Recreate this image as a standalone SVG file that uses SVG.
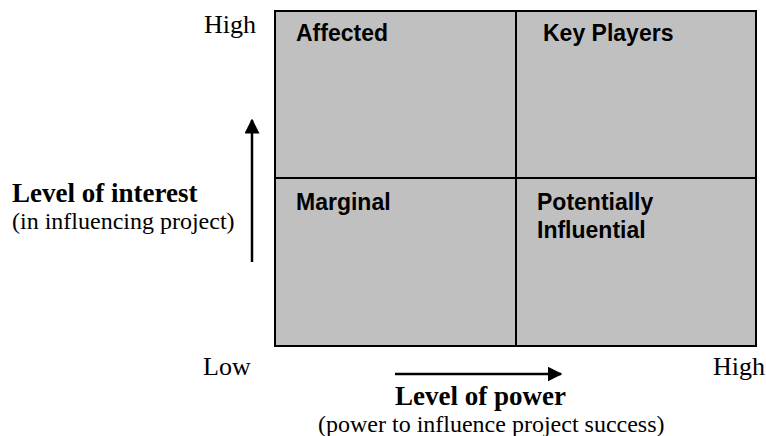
<svg xmlns="http://www.w3.org/2000/svg" width="766" height="436" viewBox="0 0 766 436">
<defs>
<style>
.quad{fill:#C0C0C0;stroke:#000;stroke-width:2}
.ql{font-family:"Liberation Sans",Arial,sans-serif;font-weight:bold;font-size:23px;fill:#000}
.ax{font-family:"Liberation Serif","Times New Roman",serif;font-size:26px;fill:#000}
.sub{font-family:"Liberation Serif","Times New Roman",serif;font-size:24px;fill:#000}
.axb{font-family:"Liberation Serif","Times New Roman",serif;font-size:27px;font-weight:bold;fill:#000}
.arr{stroke:#000;stroke-width:2.5;fill:none}
</style>
<marker id="ah" viewBox="0 0 10 10" refX="9" refY="5" markerWidth="6" markerHeight="6" orient="auto" markerUnits="strokeWidth">
<path d="M0,0 L10,5 L0,10 Z" fill="#000"/>
</marker>
</defs>
<rect width="766" height="436" fill="#fff"/>
<g id="affected"><rect class="quad" x="275" y="11" width="241" height="167"/><text class="ql" x="296" y="41">Affected</text></g>
<g id="key-players"><rect class="quad" x="516" y="11" width="240" height="167"/><text class="ql" x="543" y="41">Key Players</text></g>
<g id="marginal"><rect class="quad" x="275" y="178" width="241" height="168"/><text class="ql" x="296" y="210">Marginal</text></g>
<g id="potentially-influential"><rect class="quad" x="516" y="178" width="240" height="168"/><text class="ql" x="537" y="210">Potentially</text><text class="ql" x="537" y="238">Influential</text></g>
<g id="connectors">
<line class="arr" x1="395" y1="374" x2="561" y2="374" marker-end="url(#ah)"/>
<line class="arr" x1="252" y1="262" x2="252" y2="120" marker-end="url(#ah)"/>
</g>
<g id="labels">
<text class="ax" x="204" y="33">High</text>
<text class="axb" x="12" y="202">Level of interest</text>
<text class="sub" x="12" y="229">(in influencing project)</text>
<text class="ax" x="203" y="375">Low</text>
<text class="ax" x="713" y="375">High</text>
<text class="axb" x="395" y="405">Level of power</text>
<text class="sub" x="318" y="432">(power to influence project success)</text>
</g>
</svg>
